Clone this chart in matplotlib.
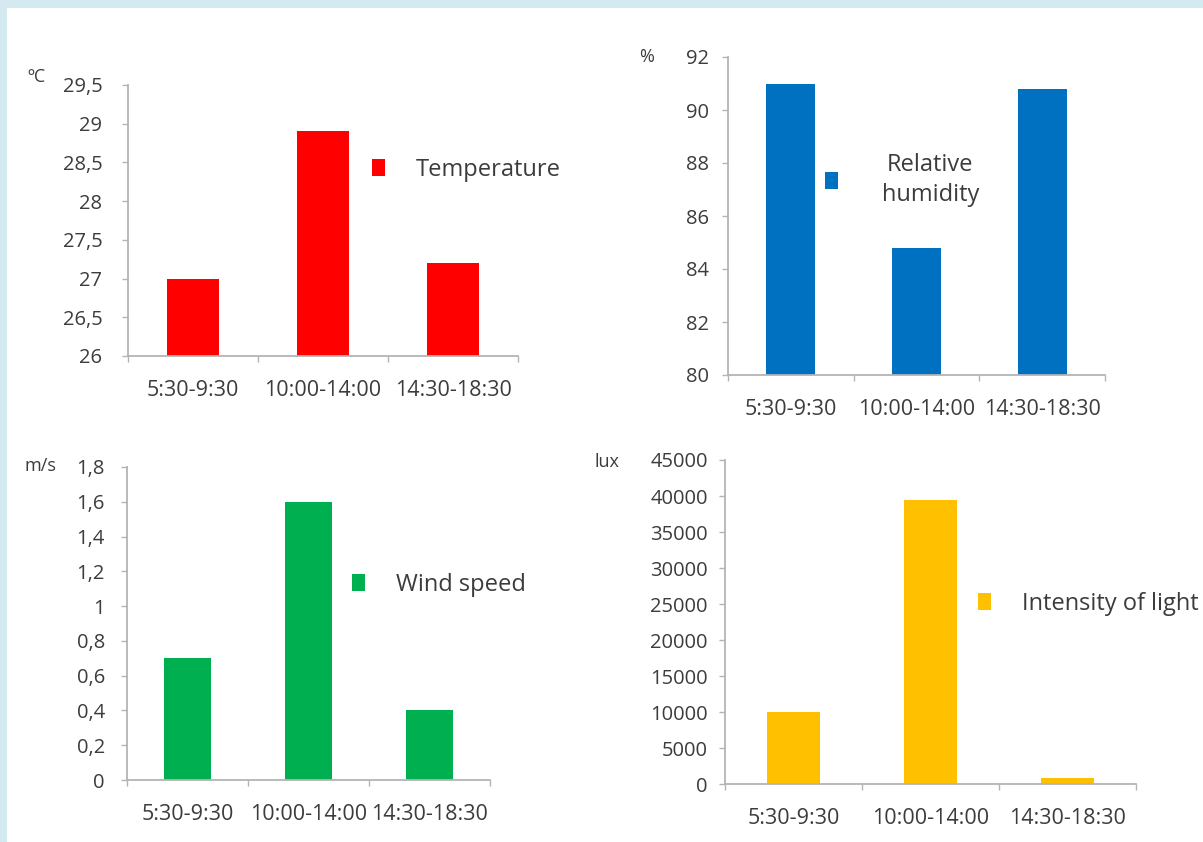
import matplotlib
matplotlib.use("Agg")
import matplotlib.pyplot as plt
from matplotlib.patches import Rectangle

# Measurement periods and the four recorded parameters
periods = ["5:30-9:30", "10:00-14:00", "14:30-18:30"]
temperature = [27.0, 28.9, 27.2]        # ºC
humidity = [91.0, 84.8, 90.8]           # %
wind_speed = [0.7, 1.6, 0.4]            # m/s
light = [10000, 39500, 800]             # lux

temp_ticks = [26, 26.5, 27, 27.5, 28, 28.5, 29, 29.5]
hum_ticks = [80, 82, 84, 86, 88, 90, 92]
wind_ticks = [0, 0.2, 0.4, 0.6, 0.8, 1, 1.2, 1.4, 1.6, 1.8]
light_ticks = list(range(0, 45001, 5000))

W, H = 1203, 842
plt.rcParams["font.family"] = ["Open Sans", "DejaVu Sans"]
TXT = "#3c3c3c"
AXC = "#b4b4b4"

fig = plt.figure(figsize=(W / 100, H / 100), dpi=100, facecolor="#d5e9f0")
fig.patches.append(Rectangle((7 / W, 0), 1 - 7 / W, 1 - 8 / H, transform=fig.transFigure,
                             facecolor="white", edgecolor="none", zorder=-10))


def px_rect(x0, x1, ytop, ybot):
    return [x0 / W, 1 - ybot / H, (x1 - x0) / W, (ybot - ytop) / H]


def fmt(v):
    s = f"{v:g}"
    return s.replace(".", ",")


def panel(rect, values, ticks, color, width, label, ypad, unit, unit_xy, leg_xy, leg_pad,
          center_text=False):
    ax = fig.add_axes(rect)
    ax.set_facecolor("none")
    ax.bar(range(len(values)), values, width=width, color=color, label=label, zorder=2)
    ax.set_xlim(-0.5, len(values) - 0.5)
    ax.set_ylim(ticks[0], ticks[-1])
    ax.set_yticks(ticks)
    ax.set_yticklabels([fmt(t) for t in ticks])
    for s in ("top", "right"):
        ax.spines[s].set_visible(False)
    for s in ("left", "bottom"):
        ax.spines[s].set_color(AXC)
        ax.spines[s].set_linewidth(1.3)
    ax.tick_params(axis="y", length=4, width=1.0, color=AXC, pad=ypad,
                   labelsize=14.5, labelcolor=TXT)
    # category boundary ticks, labels sit at category centres
    ax.set_xticks([i - 0.5 for i in range(len(values) + 1)])
    ax.set_xticklabels([""] * (len(values) + 1))
    ax.tick_params(axis="x", which="major", length=4, width=1.0, color=AXC)
    ax.set_xticks(range(len(values)), minor=True)
    ax.set_xticklabels(periods, minor=True)
    ax.tick_params(axis="x", which="minor", length=0, pad=17.5, labelsize=15.5,
                   labelcolor=TXT)
    fig.text(unit_xy[0] / W, 1 - unit_xy[1] / H, unit, fontsize=13, color=TXT,
             ha="left", va="center")
    leg = ax.legend(loc="center left", bbox_to_anchor=(leg_xy[0] / W, 1 - leg_xy[1] / H),
                    bbox_transform=fig.transFigure, frameon=False, fontsize=17,
                    handlelength=0.55, handleheight=0.7, handletextpad=leg_pad,
                    borderpad=0, borderaxespad=0, labelcolor=TXT)
    if center_text:
        for t in leg.get_texts():
            t.set_multialignment("center")
            t.set_linespacing(1.35)
    return ax


panel(px_rect(128, 518, 85, 356), temperature, temp_ticks, "#ff0000", 0.40,
      "Temperature", 14.5, "ºC", (27, 77), (372, 170), 1.3)
panel(px_rect(728, 1105, 57, 375), humidity, hum_ticks, "#0070c0", 0.39,
      "Relative\nhumidity", 10, "%", (639, 57), (825, 180), 1.85, center_text=True)
panel(px_rect(127, 490, 467, 780), wind_speed, wind_ticks, "#00b050", 0.39,
      "Wind speed", 12, "m/s", (24, 466), (352, 585), 1.3)
panel(px_rect(725, 1136, 460, 784), light, light_ticks, "#ffc000", 0.38,
      "Intensity of light", 8.5, "lux", (595, 462), (978, 604), 1.3)

fig.savefig("out.png", dpi=100, facecolor=fig.get_facecolor())
